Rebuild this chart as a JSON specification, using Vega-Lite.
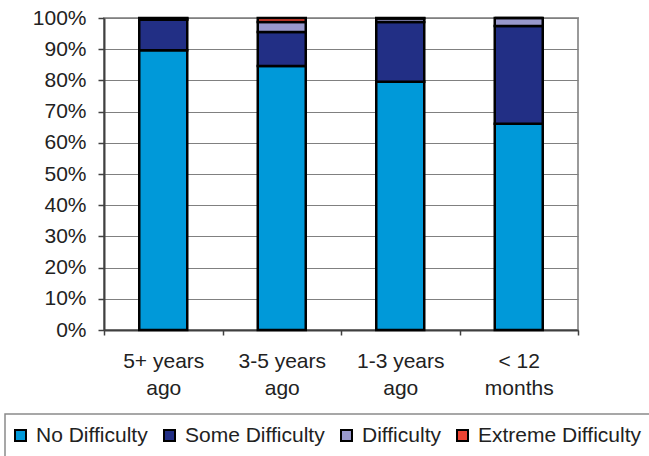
{
  "$schema": "https://vega.github.io/schema/vega-lite/v6.json",
  "autosize": {"type": "none"},
  "padding": {"left": 104, "top": 18, "right": 71, "bottom": 126},
  "width": 474,
  "height": 312,
  "background": "white",
  "config": {
    "font": "Liberation Sans",
    "view": {"stroke": "#9a9a9a", "strokeWidth": 2},
    "axis": {"labelFont": "Liberation Sans", "labelFontSize": 21, "labelColor": "#222222", "domainColor": "#404040", "domainWidth": 2, "tickColor": "#404040", "tickWidth": 1.5}
  },
  "data": {
    "values": [
      {"period": "5+ years ago", "level": "No Difficulty", "rank": 1, "share": 0.897},
      {"period": "5+ years ago", "level": "Some Difficulty", "rank": 2, "share": 0.097},
      {"period": "5+ years ago", "level": "Difficulty", "rank": 3, "share": 0.004},
      {"period": "5+ years ago", "level": "Extreme Difficulty", "rank": 4, "share": 0.002},
      {"period": "3-5 years ago", "level": "No Difficulty", "rank": 1, "share": 0.846},
      {"period": "3-5 years ago", "level": "Some Difficulty", "rank": 2, "share": 0.109},
      {"period": "3-5 years ago", "level": "Difficulty", "rank": 3, "share": 0.032},
      {"period": "3-5 years ago", "level": "Extreme Difficulty", "rank": 4, "share": 0.013},
      {"period": "1-3 years ago", "level": "No Difficulty", "rank": 1, "share": 0.796},
      {"period": "1-3 years ago", "level": "Some Difficulty", "rank": 2, "share": 0.191},
      {"period": "1-3 years ago", "level": "Difficulty", "rank": 3, "share": 0.011},
      {"period": "1-3 years ago", "level": "Extreme Difficulty", "rank": 4, "share": 0.002},
      {"period": "< 12 months", "level": "No Difficulty", "rank": 1, "share": 0.661},
      {"period": "< 12 months", "level": "Some Difficulty", "rank": 2, "share": 0.313},
      {"period": "< 12 months", "level": "Difficulty", "rank": 3, "share": 0.026},
      {"period": "< 12 months", "level": "Extreme Difficulty", "rank": 4, "share": 0.0}
    ]
  },
  "mark": {"type": "bar", "width": 48, "stroke": "#000000", "strokeWidth": 2.5},
  "encoding": {
    "x": {
      "field": "period",
      "type": "nominal",
      "sort": ["5+ years ago", "3-5 years ago", "1-3 years ago", "< 12 months"],
      "scale": {"paddingInner": 0, "paddingOuter": 0},
      "axis": {
        "title": null,
        "labelAngle": 0,
        "tickBand": "extent",
        "tickSize": 5,
        "labelPadding": 15,
        "labelLineHeight": 27,
        "labelExpr": "!isValid(datum.value) ? '' : datum.value == '< 12 months' ? ['< 12', 'months'] : [replace(datum.value, ' ago', ''), 'ago']",
        "grid": false
      }
    },
    "y": {
      "field": "share",
      "type": "quantitative",
      "stack": "zero",
      "scale": {"domain": [0, 1], "nice": false},
      "axis": {
        "title": null,
        "format": ".0%",
        "values": [0, 0.1, 0.2, 0.3, 0.4, 0.5, 0.6, 0.7, 0.8, 0.9, 1],
        "tickSize": 6,
        "labelPadding": 12,
        "grid": true,
        "gridColor": "#808080",
        "gridWidth": 1.2
      }
    },
    "order": {"field": "rank", "type": "quantitative", "sort": "ascending"},
    "color": {
      "field": "level",
      "type": "nominal",
      "sort": ["No Difficulty", "Some Difficulty", "Difficulty", "Extreme Difficulty"],
      "scale": {
        "domain": ["No Difficulty", "Some Difficulty", "Difficulty", "Extreme Difficulty"],
        "range": ["#0099d9", "#222f85", "#9898cc", "#ee4433"]
      },
      "legend": {
        "title": null,
        "orient": "none",
        "direction": "horizontal",
        "columns": 4,
        "gridAlign": "none",
        "legendX": -99,
        "legendY": 396,
        "padding": 11,
        "strokeColor": "#8a8a8a",
        "symbolType": "square",
        "symbolSize": 121,
        "symbolOffset": -6,
        "symbolStrokeColor": "#000000",
        "symbolStrokeWidth": 2,
        "symbolOpacity": 1,
        "labelFont": "Liberation Sans",
        "labelFontSize": 21,
        "labelColor": "#222222",
        "labelOffset": 5,
        "columnPadding": 12,
        "labelLimit": 300,
        "encode": {"legend": {"update": {"strokeWidth": {"value": 1.5}}}}
      }
    }
  }
}
